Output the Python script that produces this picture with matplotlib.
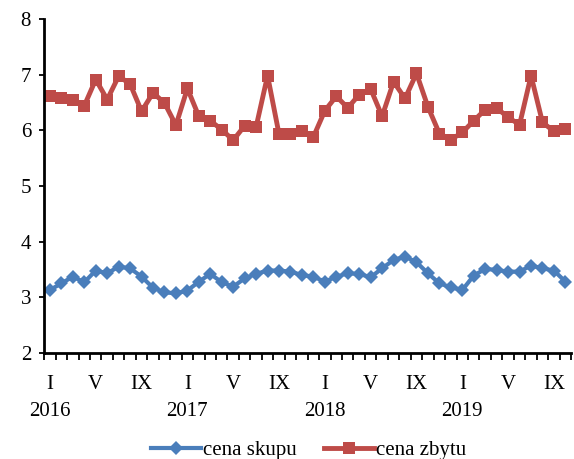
import numpy as np
import matplotlib.pyplot as plt

plt.rcParams['font.family'] = ['Liberation Serif', 'DejaVu Serif']
plt.rcParams['font.size'] = 15

# monthly prices, I 2016 - X 2019
cena_skupu = [3.13, 3.25, 3.37, 3.27, 3.48, 3.43, 3.55, 3.52, 3.37, 3.17, 3.09, 3.07,
              3.12, 3.28, 3.42, 3.27, 3.19, 3.34, 3.42, 3.48, 3.48, 3.46, 3.40, 3.37,
              3.28, 3.37, 3.43, 3.42, 3.36, 3.52, 3.67, 3.73, 3.63, 3.43, 3.25, 3.18,
              3.13, 3.39, 3.51, 3.49, 3.46, 3.46, 3.57, 3.52, 3.48, 3.28]
cena_zbytu = [6.62, 6.57, 6.55, 6.44, 6.91, 6.55, 6.97, 6.83, 6.34, 6.67, 6.49, 6.09,
              6.75, 6.25, 6.17, 6.01, 5.82, 6.08, 6.06, 6.98, 5.93, 5.93, 5.98, 5.88,
              6.35, 6.61, 6.40, 6.64, 6.74, 6.25, 6.87, 6.57, 7.02, 6.42, 5.94, 5.83,
              5.96, 6.17, 6.37, 6.40, 6.23, 6.10, 6.98, 6.14, 5.98, 6.02]
years = ['2016', '2017', '2018', '2019']
month_names = {0: 'I', 4: 'V', 8: 'IX'}

n = len(cena_skupu)
x = np.arange(n)

fig = plt.figure(figsize=(5.74, 4.59), dpi=100)
ax = fig.add_axes([0.077, 0.231, 0.918, 0.728])

ax.plot(x, cena_skupu, color='#4a7ebb', lw=3, marker='D', ms=7, mew=0,
        label='cena skupu')
ax.plot(x, cena_zbytu, color='#be4b48', lw=3.5, marker='s', ms=8.5, mew=0,
        label='cena zbytu')

ax.set_ylim(2, 8)
ax.set_yticks(range(2, 9))
ax.set_xlim(-0.5, n - 0.5)

# ticks between months, labels at month centres
ax.set_xticks(np.arange(-0.5, n, 1))
ax.set_xticklabels([])
ax.set_xticks(x, minor=True)
ax.set_xticklabels([month_names.get(i % 12, '') for i in x], minor=True)
ax.tick_params(axis='x', which='major', length=5, width=1.3, direction='out')
ax.tick_params(axis='x', which='minor', length=0, pad=16)
ax.tick_params(axis='y', length=3.5, width=1.3, direction='out', pad=6)

for k, yr in enumerate(years):
    ax.text(12 * k, -0.175, yr, ha='center', va='center',
            transform=ax.get_xaxis_transform())

for s in ['top', 'right']:
    ax.spines[s].set_visible(False)
for s in ['left', 'bottom']:
    ax.spines[s].set_linewidth(2)

ax.legend(loc='center', bbox_to_anchor=(0.502, -0.292), ncol=2, frameon=False,
          handlelength=2.4, handletextpad=0.1, columnspacing=1.3, borderpad=0)

fig.savefig('out.png', dpi=100)
